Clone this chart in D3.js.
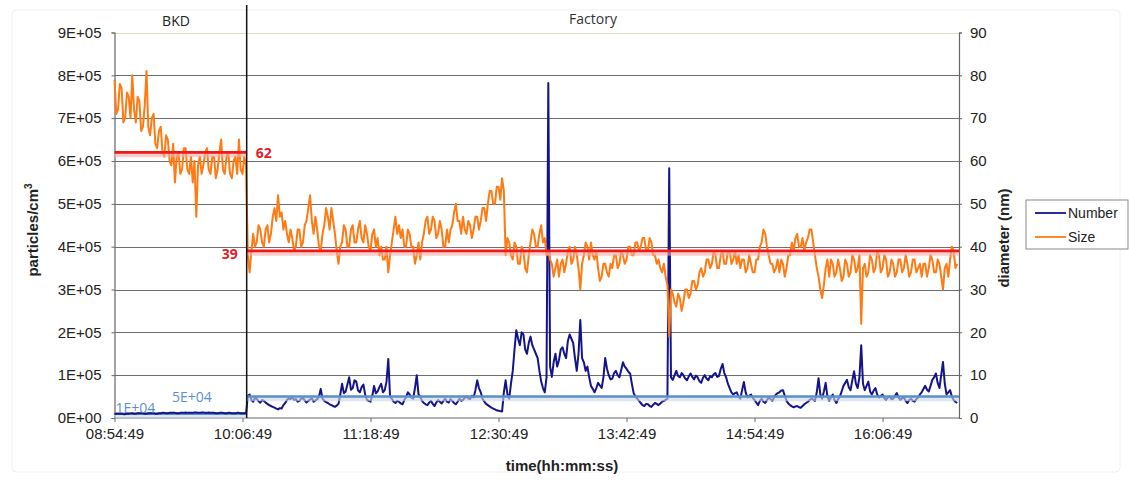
<!DOCTYPE html>
<meta charset="utf-8">
<style>
body { margin: 0; background: #fff; font-family: 'Liberation Sans', Arial, sans-serif; }
.tick text { font-size: 15px; fill: #222; font-family: 'Liberation Sans', Arial, sans-serif; }
.axtitle { font-size: 15px; font-weight: bold; fill: #222; }
.note { font-family: 'Open Sans', sans-serif; }
</style>
<body>
<svg id="chart" width="1129" height="482"></svg>
<script src="https://cdn.jsdelivr.net/npm/d3@7"></script>
<script>
// time axis
var startTime = "08:54:49";
var endTime = "16:49:49";
var stepMinutes = 1;
var splitTime = "10:09:10";
var tickLabels = ["08:54:49", "10:06:49", "11:18:49", "12:30:49", "13:42:49", "14:54:49", "16:06:49"];

// particle number, thousands per cm3 (one reading per minute)
var numberK = [
  9,10,10,10,10,9,9,10,10,11,
  11,10,10,11,11,11,11,10,10,11,
  11,11,11,10,10,11,11,12,12,11,
  11,12,12,12,12,11,11,12,12,12,
  13,12,12,12,12,13,13,12,12,13,
  13,12,12,13,12,12,12,11,11,12,
  12,12,11,11,12,12,11,11,11,12,
  12,11,11,11,11,52,55,42,38,47,
  45,39,36,42,40,36,33,30,28,26,
  24,22,20,23,22,30,35,42,46,44,
  48,42,44,38,40,45,47,41,36,40,
  43,46,38,41,44,50,68,45,40,37,
  35,32,30,28,26,29,33,55,80,58,
  62,78,95,66,70,88,85,64,60,72,
  78,55,42,40,38,52,75,58,62,72,
  80,60,65,85,138,50,45,38,35,40,
  38,34,32,42,48,60,55,48,45,70,
  100,55,50,40,35,32,30,36,40,33,
  28,36,42,38,34,40,45,38,36,44,
  40,35,32,38,45,40,42,47,50,46,
  44,52,48,65,88,70,60,45,38,33,
  30,27,24,22,20,18,17,16,15,60,
  88,55,45,80,110,160,205,185,170,200,
  195,160,150,175,190,170,160,150,140,110,
  85,70,60,95,782,120,96,130,150,120,
  135,160,165,150,140,180,195,185,175,140,
  110,150,229,140,130,110,120,95,75,68,
  60,70,82,76,70,95,140,115,100,90,
  92,105,110,100,95,112,130,120,115,108,
  104,80,58,50,45,40,35,30,28,33,
  32,28,26,31,35,33,30,34,38,40,
  42,45,583,95,89,100,110,98,95,105,
  100,92,88,97,104,96,90,99,95,86,
  82,94,100,92,88,98,95,102,105,96,
  98,115,126,105,95,80,70,60,55,58,
  60,50,45,65,84,60,48,52,55,47,
  42,36,30,40,45,38,35,42,48,44,
  40,48,55,58,60,64,65,52,40,34,
  30,27,25,27,28,25,24,28,32,35,
  38,42,45,43,40,60,93,55,45,62,
  82,50,40,48,55,42,35,44,50,62,
  75,82,89,72,65,88,109,80,70,95,
  170,80,65,75,85,62,55,64,70,55,
  48,52,55,46,42,48,50,44,45,52,
  58,48,42,46,48,40,35,42,45,40,
  38,44,48,55,60,68,75,66,62,75,
  89,95,104,82,70,100,131,80,55,60,
  65,50,42,38,35
];

// particle size, nm (one reading per minute)
var sizeNm = [
  79,71,72,78,77,69,70,76,75,70,
  80,72,69,75,74,67,68,73,81,68,
  66,70,71,64,63,67,68,62,61,66,
  65,60,59,64,55,61,62,57,58,63,
  63,58,57,61,55,60,47,59,61,57,
  59,62,63,58,57,61,61,56,58,62,
  65,58,57,61,62,57,56,60,61,57,
  65,58,57,61,59,38,34,39,43,40,
  41,45,44,41,40,44,45,41,43,47,
  49,46,52,47,48,44,46,43,41,44,
  42,39,40,44,44,40,41,45,46,49,
  52,46,43,47,44,40,39,43,45,49,
  47,44,49,46,43,39,36,40,41,45,
  44,40,40,44,45,41,41,44,46,42,
  41,45,43,40,39,43,44,40,42,38,
  40,37,37,40,34,38,41,44,47,43,
  45,42,44,40,40,44,43,40,40,36,
  38,41,37,41,43,46,47,43,44,47,
  46,42,43,46,44,40,40,44,41,44,
  45,48,50,46,46,43,47,44,43,46,
  45,42,44,47,47,44,46,49,49,46,
  50,53,53,50,50,54,54,51,56,53,
  38,42,41,38,37,41,40,36,36,40,
  39,35,34,38,41,44,43,40,40,43,
  45,41,42,38,39,37,36,33,35,37,
  33,36,37,34,36,39,40,36,37,40,
  38,35,30,36,38,41,40,37,41,38,
  37,39,35,32,33,36,36,34,33,36,
  35,38,38,35,36,39,38,36,37,40,
  40,38,38,41,41,39,40,42,42,39,
  39,42,41,38,38,36,37,35,34,36,
  33,31,19,30,29,27,26,29,28,25,
  27,30,30,28,29,32,32,30,31,34,
  35,33,34,37,37,35,36,39,38,35,
  35,38,39,36,36,39,39,36,37,39,
  36,38,35,37,37,34,35,38,36,34,
  34,37,37,40,41,44,43,40,38,36,
  36,34,35,37,34,37,36,33,35,38,
  38,41,39,42,43,40,40,42,39,41,
  42,44,44,41,38,35,33,30,28,31,
  35,37,33,37,36,33,34,37,35,32,
  33,37,36,33,34,38,37,34,35,38,
  22,35,36,33,34,38,37,34,35,39,
  38,34,35,38,37,33,34,37,36,33,
  34,37,37,34,35,38,36,33,34,37,
  37,34,35,36,33,36,36,33,35,38,
  37,34,34,37,36,33,30,35,36,33,
  37,40,39,35,36
];

// period averages
var meanNumberK = [10, 50];
var meanSizeNm = [62, 39];
var meanNumberLabels = ["1E+04", "5E+04"];
var periodNames = ["BKD", "Factory"];

var parse = d3.timeParse("%H:%M:%S");
var t0 = parse(startTime), t1 = parse(endTime), tSplit = parse(splitTime);
var timeAt = function(i) { return d3.timeMinute.offset(t0, i * stepMinutes); };

var svg = d3.select("#chart");
var plotL = 114.5, plotR = 959, plotT = 32.5, plotB = 418;

var x = d3.scaleTime().domain([t0, t1]).range([plotL, plotR]);
var yL = d3.scaleLinear().domain([0, 900]).range([plotB, plotT]);
var yR = d3.scaleLinear().domain([0, 90]).range([plotB, plotT]);

// faint chart frame
svg.append("rect").attr("x", 12).attr("y", 10).attr("width", 1108).attr("height", 462)
  .attr("rx", 4).attr("fill", "none").attr("stroke", "#f0f0f0");

// gridlines
svg.append("g").selectAll("line").data(d3.range(100, 901, 100)).enter().append("line")
  .attr("x1", plotL).attr("x2", plotR)
  .attr("y1", function(d) { return Math.round(yL(d)) + 0.5; })
  .attr("y2", function(d) { return Math.round(yL(d)) + 0.5; })
  .attr("stroke", function(d) { return d === 900 ? "#dedbbf" : "#6e6e6e"; })
  .attr("stroke-width", 1.2);

// axes
var axL = svg.append("g").attr("transform", "translate(" + plotL + ",0)")
  .call(d3.axisLeft(yL).tickValues(d3.range(0, 901, 100)).tickSize(3).tickPadding(10)
    .tickFormat(function(d) { return d === 0 ? "0E+00" : (d / 100) + "E+05"; }));
var axR = svg.append("g").attr("transform", "translate(" + plotR + ",0)")
  .call(d3.axisRight(yR).tickValues(d3.range(0, 91, 10)).tickSize(3).tickPadding(8));
var axB = svg.append("g").attr("transform", "translate(0," + plotB + ")")
  .call(d3.axisBottom(x).tickValues(tickLabels.map(parse)).tickSize(4).tickPadding(6)
    .tickFormat(d3.timeFormat("%H:%M:%S")));
[axL, axR, axB].forEach(function(a) {
  a.selectAll("path").attr("stroke", "#666").attr("stroke-width", 1.2);
  a.selectAll("line").attr("stroke", "#666");
});
axB.select("path").attr("d", "M" + plotL + ",0H" + plotR);

// mean line with a soft shadow below it
function meanLine(x1, x2, yv, col, glow, w) {
  svg.append("line").attr("x1", x1).attr("x2", x2).attr("y1", yv + 2.5).attr("y2", yv + 2.5)
    .attr("stroke", glow).attr("stroke-width", w + 2).attr("opacity", 0.6);
  svg.append("line").attr("x1", x1).attr("x2", x2).attr("y1", yv).attr("y2", yv)
    .attr("stroke", col).attr("stroke-width", w);
}
meanLine(x(t0), x(tSplit), yL(meanNumberK[0]), "#5b8fc9", "#c9d6e6", 2.5);

var lineN = d3.line().x(function(d, i) { return x(timeAt(i)); }).y(function(d) { return yL(d); });
var lineS = d3.line().x(function(d, i) { return x(timeAt(i)); }).y(function(d) { return yR(d); });

svg.append("path").datum(numberK).attr("d", lineN)
  .attr("fill", "none").attr("stroke", "#14148a").attr("stroke-width", 2).attr("stroke-linejoin", "round");
svg.append("path").datum(sizeNm).attr("d", lineS)
  .attr("fill", "none").attr("stroke", "#ff7a12").attr("stroke-width", 2).attr("stroke-linejoin", "round");

// period means
meanLine(x(t0), x(tSplit), yR(meanSizeNm[0]), "#f01818", "#f2b0a8", 2.8);
meanLine(x(tSplit), plotR, yR(meanSizeNm[1]), "#f01818", "#f2b0a8", 2.8);
meanLine(x(tSplit), plotR, yL(meanNumberK[1]), "#5b8fc9", "#c9d6e6", 2.5);

// split marker
svg.append("line").attr("x1", x(tSplit)).attr("x2", x(tSplit)).attr("y1", 5).attr("y2", plotB)
  .attr("stroke", "#111").attr("stroke-width", 1.5);

// period titles
svg.append("text").attr("class", "note").attr("x", 176).attr("y", 26).attr("text-anchor", "middle")
  .style("font-size", "14px").attr("fill", "#222").text(periodNames[0]);
svg.append("text").attr("class", "note").attr("x", 593).attr("y", 24).attr("text-anchor", "middle")
  .style("font-size", "14px").attr("fill", "#333").text(periodNames[1]);

// mean labels
svg.append("text").attr("class", "note").attr("x", x(tSplit) + 9).attr("y", yR(meanSizeNm[0]) + 6)
  .style("font-size", "14px").style("font-weight", "bold").attr("fill", "#e0202a").text(meanSizeNm[0]);
svg.append("text").attr("class", "note").attr("x", x(tSplit) - 25).attr("y", yR(meanSizeNm[1]) + 8)
  .style("font-size", "14px").style("font-weight", "bold").attr("fill", "#e0202a").text(meanSizeNm[1]);
svg.append("text").attr("class", "note").attr("x", x(t0) + 1).attr("y", yL(meanNumberK[0]) - 1)
  .style("font-size", "14px").attr("fill", "#5b8fc9").text(meanNumberLabels[0]);
svg.append("text").attr("class", "note").attr("x", 172).attr("y", yL(meanNumberK[1]) + 5)
  .style("font-size", "14px").attr("fill", "#5b8fc9").text(meanNumberLabels[1]);

// axis titles
svg.append("text").attr("class", "axtitle").attr("transform", "translate(38,230) rotate(-90)")
  .attr("text-anchor", "middle").html("particles/cm<tspan dy='-6' font-size='10px'>3</tspan>");
svg.append("text").attr("class", "axtitle").attr("transform", "translate(1009,238) rotate(-90)")
  .attr("text-anchor", "middle").text("diameter (nm)");
svg.append("text").attr("class", "axtitle").attr("x", 562).attr("y", 471)
  .attr("text-anchor", "middle").text("time(hh:mm:ss)");

// legend
var lg = svg.append("g").attr("transform", "translate(1026,200)");
lg.append("rect").attr("width", 102).attr("height", 49).attr("fill", "#fff").attr("stroke", "#8a8a8a");
[["Number", "#14148a"], ["Size", "#ff7a12"]].forEach(function(d, i) {
  lg.append("line").attr("x1", 9).attr("x2", 40).attr("y1", 13 + i * 24).attr("y2", 13 + i * 24)
    .attr("stroke", d[1]).attr("stroke-width", 1.8);
  lg.append("text").attr("x", 42).attr("y", 18 + i * 24).style("font-size", "14px").attr("fill", "#222").text(d[0]);
});
</script>
</body>
